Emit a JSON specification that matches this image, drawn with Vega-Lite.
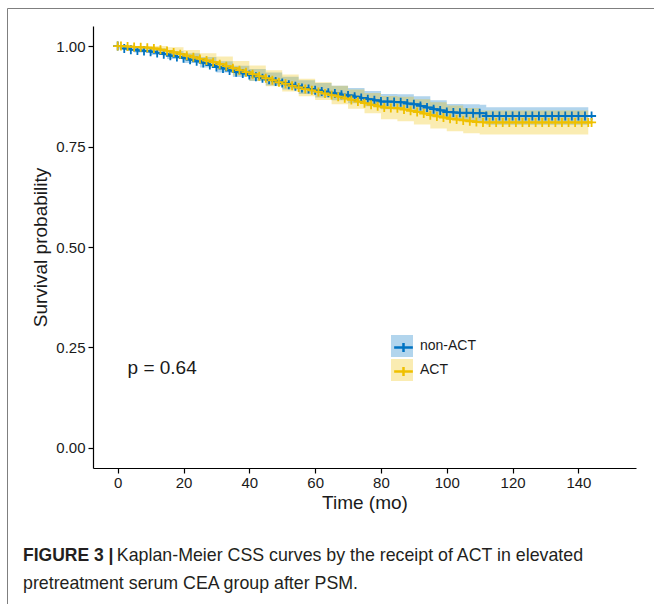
{
  "$schema": "https://vega.github.io/schema/vega-lite/v6.json",
  "width": 543,
  "height": 442,
  "autosize": {"type": "none"},
  "padding": {"left": 93, "top": 26, "right": 18, "bottom": 136},
  "background": "white",
  "config": {
    "view": {"stroke": null},
    "font": "Liberation Sans",
    "axis": {
      "grid": false,
      "domainColor": "#000000",
      "domainWidth": 1.2,
      "tickColor": "#000000",
      "tickWidth": 1.2,
      "tickSize": 5,
      "labelFontSize": 15,
      "labelColor": "#1a1a1a",
      "labelFont": "Liberation Sans",
      "titleFont": "Liberation Sans",
      "titleFontSize": 19,
      "titleFontWeight": "normal",
      "titleColor": "#1a1a1a"
    }
  },
  "title": {
    "text": "FIGURE 3 |",
    "subtitle": ["\u200b\u00a0\u00a0\u00a0\u00a0\u00a0\u00a0\u00a0\u00a0\u00a0\u00a0\u00a0\u00a0\u00a0\u00a0\u00a0\u00a0\u00a0\u00a0\u00a0Kaplan-Meier CSS curves by the receipt of ACT in elevated", "pretreatment serum CEA group after PSM."],
    "orient": "bottom",
    "anchor": "start",
    "frame": "group",
    "baseline": "top",
    "dx": -70,
    "offset": -130,
    "font": "Liberation Sans",
    "fontSize": 17.5,
    "fontWeight": "bold",
    "color": "#231f20",
    "subtitleFont": "Liberation Sans",
    "subtitleFontSize": 17.8,
    "subtitleFontWeight": "normal",
    "subtitleColor": "#231f20",
    "subtitleLineHeight": 28,
    "subtitlePadding": -17.5
  },
  "datasets": {
    "band": [
      {"group": "non-ACT", "t": 0, "lo": 0.996, "hi": 1.0},
      {"group": "non-ACT", "t": 5, "lo": 0.984, "hi": 0.996},
      {"group": "non-ACT", "t": 10, "lo": 0.978, "hi": 0.994},
      {"group": "non-ACT", "t": 15, "lo": 0.968, "hi": 0.988},
      {"group": "non-ACT", "t": 20, "lo": 0.958, "hi": 0.982},
      {"group": "non-ACT", "t": 25, "lo": 0.947, "hi": 0.973},
      {"group": "non-ACT", "t": 30, "lo": 0.934, "hi": 0.962},
      {"group": "non-ACT", "t": 35, "lo": 0.923, "hi": 0.951},
      {"group": "non-ACT", "t": 40, "lo": 0.913, "hi": 0.943},
      {"group": "non-ACT", "t": 45, "lo": 0.902, "hi": 0.934},
      {"group": "non-ACT", "t": 50, "lo": 0.892, "hi": 0.924},
      {"group": "non-ACT", "t": 55, "lo": 0.881, "hi": 0.915},
      {"group": "non-ACT", "t": 60, "lo": 0.872, "hi": 0.908},
      {"group": "non-ACT", "t": 65, "lo": 0.865, "hi": 0.901},
      {"group": "non-ACT", "t": 70, "lo": 0.858, "hi": 0.896},
      {"group": "non-ACT", "t": 75, "lo": 0.850, "hi": 0.888},
      {"group": "non-ACT", "t": 80, "lo": 0.843, "hi": 0.881},
      {"group": "non-ACT", "t": 85, "lo": 0.842, "hi": 0.880},
      {"group": "non-ACT", "t": 90, "lo": 0.835, "hi": 0.875},
      {"group": "non-ACT", "t": 95, "lo": 0.825, "hi": 0.865},
      {"group": "non-ACT", "t": 100, "lo": 0.816, "hi": 0.856},
      {"group": "non-ACT", "t": 105, "lo": 0.813, "hi": 0.855},
      {"group": "non-ACT", "t": 110, "lo": 0.812, "hi": 0.854},
      {"group": "non-ACT", "t": 112, "lo": 0.804, "hi": 0.848},
      {"group": "non-ACT", "t": 143, "lo": 0.804, "hi": 0.848},
      {"group": "ACT", "t": 0, "lo": 0.997, "hi": 1.0},
      {"group": "ACT", "t": 5, "lo": 0.994, "hi": 1.0},
      {"group": "ACT", "t": 10, "lo": 0.989, "hi": 1.0},
      {"group": "ACT", "t": 15, "lo": 0.979, "hi": 0.997},
      {"group": "ACT", "t": 20, "lo": 0.966, "hi": 0.990},
      {"group": "ACT", "t": 25, "lo": 0.954, "hi": 0.982},
      {"group": "ACT", "t": 30, "lo": 0.942, "hi": 0.974},
      {"group": "ACT", "t": 35, "lo": 0.927, "hi": 0.963},
      {"group": "ACT", "t": 40, "lo": 0.914, "hi": 0.952},
      {"group": "ACT", "t": 45, "lo": 0.900, "hi": 0.940},
      {"group": "ACT", "t": 50, "lo": 0.887, "hi": 0.929},
      {"group": "ACT", "t": 55, "lo": 0.875, "hi": 0.919},
      {"group": "ACT", "t": 60, "lo": 0.866, "hi": 0.910},
      {"group": "ACT", "t": 65, "lo": 0.855, "hi": 0.901},
      {"group": "ACT", "t": 70, "lo": 0.844, "hi": 0.892},
      {"group": "ACT", "t": 75, "lo": 0.833, "hi": 0.883},
      {"group": "ACT", "t": 80, "lo": 0.818, "hi": 0.876},
      {"group": "ACT", "t": 85, "lo": 0.813, "hi": 0.874},
      {"group": "ACT", "t": 90, "lo": 0.805, "hi": 0.868},
      {"group": "ACT", "t": 95, "lo": 0.795, "hi": 0.860},
      {"group": "ACT", "t": 100, "lo": 0.788, "hi": 0.852},
      {"group": "ACT", "t": 105, "lo": 0.783, "hi": 0.846},
      {"group": "ACT", "t": 110, "lo": 0.780, "hi": 0.840},
      {"group": "ACT", "t": 143, "lo": 0.780, "hi": 0.840}
    ],
    "km": [
      {"grp": "non-ACT", "t": 0, "s": 1.0},
      {"grp": "non-ACT", "t": 2, "s": 0.994},
      {"grp": "non-ACT", "t": 4, "s": 0.991},
      {"grp": "non-ACT", "t": 6, "s": 0.989},
      {"grp": "non-ACT", "t": 8, "s": 0.988},
      {"grp": "non-ACT", "t": 10, "s": 0.986},
      {"grp": "non-ACT", "t": 12, "s": 0.983},
      {"grp": "non-ACT", "t": 14, "s": 0.980},
      {"grp": "non-ACT", "t": 16, "s": 0.976},
      {"grp": "non-ACT", "t": 18, "s": 0.973},
      {"grp": "non-ACT", "t": 20, "s": 0.970},
      {"grp": "non-ACT", "t": 22, "s": 0.966},
      {"grp": "non-ACT", "t": 24, "s": 0.962},
      {"grp": "non-ACT", "t": 26, "s": 0.958},
      {"grp": "non-ACT", "t": 28, "s": 0.953},
      {"grp": "non-ACT", "t": 30, "s": 0.948},
      {"grp": "non-ACT", "t": 32, "s": 0.944},
      {"grp": "non-ACT", "t": 34, "s": 0.939},
      {"grp": "non-ACT", "t": 36, "s": 0.935},
      {"grp": "non-ACT", "t": 38, "s": 0.932},
      {"grp": "non-ACT", "t": 40, "s": 0.928},
      {"grp": "non-ACT", "t": 42, "s": 0.924},
      {"grp": "non-ACT", "t": 44, "s": 0.920},
      {"grp": "non-ACT", "t": 46, "s": 0.916},
      {"grp": "non-ACT", "t": 48, "s": 0.912},
      {"grp": "non-ACT", "t": 50, "s": 0.908},
      {"grp": "non-ACT", "t": 52, "s": 0.904},
      {"grp": "non-ACT", "t": 54, "s": 0.900},
      {"grp": "non-ACT", "t": 56, "s": 0.896},
      {"grp": "non-ACT", "t": 58, "s": 0.893},
      {"grp": "non-ACT", "t": 60, "s": 0.890},
      {"grp": "non-ACT", "t": 62, "s": 0.887},
      {"grp": "non-ACT", "t": 64, "s": 0.884},
      {"grp": "non-ACT", "t": 66, "s": 0.882},
      {"grp": "non-ACT", "t": 68, "s": 0.879},
      {"grp": "non-ACT", "t": 70, "s": 0.877},
      {"grp": "non-ACT", "t": 72, "s": 0.874},
      {"grp": "non-ACT", "t": 74, "s": 0.871},
      {"grp": "non-ACT", "t": 76, "s": 0.868},
      {"grp": "non-ACT", "t": 78, "s": 0.865},
      {"grp": "non-ACT", "t": 80, "s": 0.862},
      {"grp": "non-ACT", "t": 82, "s": 0.862},
      {"grp": "non-ACT", "t": 84, "s": 0.861},
      {"grp": "non-ACT", "t": 86, "s": 0.860},
      {"grp": "non-ACT", "t": 88, "s": 0.857},
      {"grp": "non-ACT", "t": 90, "s": 0.855},
      {"grp": "non-ACT", "t": 92, "s": 0.851},
      {"grp": "non-ACT", "t": 94, "s": 0.847},
      {"grp": "non-ACT", "t": 96, "s": 0.843},
      {"grp": "non-ACT", "t": 98, "s": 0.840},
      {"grp": "non-ACT", "t": 100, "s": 0.836},
      {"grp": "non-ACT", "t": 102, "s": 0.835},
      {"grp": "non-ACT", "t": 104, "s": 0.834},
      {"grp": "non-ACT", "t": 106, "s": 0.834},
      {"grp": "non-ACT", "t": 108, "s": 0.833},
      {"grp": "non-ACT", "t": 110, "s": 0.833},
      {"grp": "non-ACT", "t": 112, "s": 0.826},
      {"grp": "non-ACT", "t": 114, "s": 0.826},
      {"grp": "non-ACT", "t": 116, "s": 0.826},
      {"grp": "non-ACT", "t": 118, "s": 0.826},
      {"grp": "non-ACT", "t": 120, "s": 0.826},
      {"grp": "non-ACT", "t": 122, "s": 0.826},
      {"grp": "non-ACT", "t": 124, "s": 0.826},
      {"grp": "non-ACT", "t": 126, "s": 0.826},
      {"grp": "non-ACT", "t": 128, "s": 0.826},
      {"grp": "non-ACT", "t": 130, "s": 0.826},
      {"grp": "non-ACT", "t": 132, "s": 0.826},
      {"grp": "non-ACT", "t": 134, "s": 0.826},
      {"grp": "non-ACT", "t": 136, "s": 0.826},
      {"grp": "non-ACT", "t": 138, "s": 0.826},
      {"grp": "non-ACT", "t": 140, "s": 0.826},
      {"grp": "non-ACT", "t": 142, "s": 0.826},
      {"grp": "non-ACT", "t": 144, "s": 0.826},
      {"grp": "ACT", "t": 0, "s": 1.0},
      {"grp": "ACT", "t": 1, "s": 1.0},
      {"grp": "ACT", "t": 3, "s": 0.999},
      {"grp": "ACT", "t": 5, "s": 0.998},
      {"grp": "ACT", "t": 7, "s": 0.997},
      {"grp": "ACT", "t": 9, "s": 0.996},
      {"grp": "ACT", "t": 11, "s": 0.994},
      {"grp": "ACT", "t": 13, "s": 0.991},
      {"grp": "ACT", "t": 15, "s": 0.988},
      {"grp": "ACT", "t": 17, "s": 0.984},
      {"grp": "ACT", "t": 19, "s": 0.980},
      {"grp": "ACT", "t": 21, "s": 0.976},
      {"grp": "ACT", "t": 23, "s": 0.972},
      {"grp": "ACT", "t": 25, "s": 0.968},
      {"grp": "ACT", "t": 27, "s": 0.964},
      {"grp": "ACT", "t": 29, "s": 0.960},
      {"grp": "ACT", "t": 31, "s": 0.955},
      {"grp": "ACT", "t": 33, "s": 0.950},
      {"grp": "ACT", "t": 35, "s": 0.945},
      {"grp": "ACT", "t": 37, "s": 0.940},
      {"grp": "ACT", "t": 39, "s": 0.935},
      {"grp": "ACT", "t": 41, "s": 0.930},
      {"grp": "ACT", "t": 43, "s": 0.925},
      {"grp": "ACT", "t": 45, "s": 0.920},
      {"grp": "ACT", "t": 47, "s": 0.915},
      {"grp": "ACT", "t": 49, "s": 0.910},
      {"grp": "ACT", "t": 51, "s": 0.906},
      {"grp": "ACT", "t": 53, "s": 0.901},
      {"grp": "ACT", "t": 55, "s": 0.897},
      {"grp": "ACT", "t": 57, "s": 0.893},
      {"grp": "ACT", "t": 59, "s": 0.890},
      {"grp": "ACT", "t": 61, "s": 0.886},
      {"grp": "ACT", "t": 63, "s": 0.882},
      {"grp": "ACT", "t": 65, "s": 0.878},
      {"grp": "ACT", "t": 67, "s": 0.874},
      {"grp": "ACT", "t": 69, "s": 0.870},
      {"grp": "ACT", "t": 71, "s": 0.866},
      {"grp": "ACT", "t": 73, "s": 0.862},
      {"grp": "ACT", "t": 75, "s": 0.858},
      {"grp": "ACT", "t": 77, "s": 0.854},
      {"grp": "ACT", "t": 79, "s": 0.850},
      {"grp": "ACT", "t": 81, "s": 0.847},
      {"grp": "ACT", "t": 83, "s": 0.846},
      {"grp": "ACT", "t": 85, "s": 0.845},
      {"grp": "ACT", "t": 87, "s": 0.842},
      {"grp": "ACT", "t": 89, "s": 0.839},
      {"grp": "ACT", "t": 91, "s": 0.836},
      {"grp": "ACT", "t": 93, "s": 0.832},
      {"grp": "ACT", "t": 95, "s": 0.828},
      {"grp": "ACT", "t": 97, "s": 0.825},
      {"grp": "ACT", "t": 99, "s": 0.822},
      {"grp": "ACT", "t": 101, "s": 0.819},
      {"grp": "ACT", "t": 103, "s": 0.817},
      {"grp": "ACT", "t": 105, "s": 0.815},
      {"grp": "ACT", "t": 107, "s": 0.813},
      {"grp": "ACT", "t": 109, "s": 0.811},
      {"grp": "ACT", "t": 111, "s": 0.810},
      {"grp": "ACT", "t": 113, "s": 0.810},
      {"grp": "ACT", "t": 115, "s": 0.810},
      {"grp": "ACT", "t": 117, "s": 0.810},
      {"grp": "ACT", "t": 119, "s": 0.810},
      {"grp": "ACT", "t": 121, "s": 0.810},
      {"grp": "ACT", "t": 123, "s": 0.810},
      {"grp": "ACT", "t": 125, "s": 0.810},
      {"grp": "ACT", "t": 127, "s": 0.810},
      {"grp": "ACT", "t": 129, "s": 0.810},
      {"grp": "ACT", "t": 131, "s": 0.810},
      {"grp": "ACT", "t": 133, "s": 0.810},
      {"grp": "ACT", "t": 135, "s": 0.810},
      {"grp": "ACT", "t": 137, "s": 0.810},
      {"grp": "ACT", "t": 139, "s": 0.810},
      {"grp": "ACT", "t": 141, "s": 0.810},
      {"grp": "ACT", "t": 143, "s": 0.810},
      {"grp": "ACT", "t": 144, "s": 0.810}
    ],
    "pv": [{"label": "p = 0.64", "t": 3, "s": 0.2}]
  },
  "layer": [
    {
      "data": {"name": "band"},
      "mark": {"type": "area", "interpolate": "step-after", "opacity": 0.3},
      "encoding": {
        "x": {"field": "t", "type": "quantitative", "scale": {"domain": [-7.5, 157.5], "nice": false, "zero": false},
          "axis": {"values": [0, 20, 40, 60, 80, 100, 120, 140], "title": "Time (mo)", "labelPadding": 2, "titlePadding": 3}},
        "y": {"field": "lo", "type": "quantitative", "scale": {"domain": [-0.05, 1.05], "nice": false, "zero": false},
          "axis": {"values": [0, 0.25, 0.5, 0.75, 1], "format": ".2f", "title": "Survival probability", "labelPadding": 3, "titlePadding": 5}},
        "y2": {"field": "hi"},
        "fill": {"field": "group", "type": "nominal", "scale": {"range": ["#EFC000", "#0073C2"]},
          "legend": {"orient": "none", "legendX": 298, "legendY": 309, "title": null, "values": ["non-ACT", "ACT"], "symbolType": "square", "symbolSize": 484, "symbolOpacity": 0.3, "symbolStrokeWidth": 0, "labelFontSize": 14, "labelColor": "#1a1a1a", "labelOffset": 7, "rowPadding": 2, "padding": 0}}
      }
    },
    {
      "data": {"name": "km"},
      "mark": {"type": "line", "interpolate": "step-after", "strokeWidth": 2},
      "encoding": {
        "x": {"field": "t", "type": "quantitative"},
        "y": {"field": "s", "type": "quantitative"},
        "stroke": {"field": "grp", "type": "nominal", "scale": {"range": ["#EFC000", "#0073C2"]},
          "legend": {"orient": "none", "legendX": 298, "legendY": 309, "title": null, "values": ["non-ACT", "ACT"], "symbolType": "M-0.85,0H0.85M0,-0.4V0.4", "symbolSize": 484, "symbolStrokeWidth": 2.5, "symbolFillColor": "transparent", "labelFontSize": 14, "labelExpr": "''", "labelOffset": 7, "rowPadding": 2, "padding": 0}}
      }
    },
    {
      "data": {"name": "km"},
      "mark": {"type": "point", "shape": "M0,-1V1M-1,0H1", "size": 81, "strokeWidth": 1.8, "filled": false, "opacity": 1},
      "encoding": {
        "x": {"field": "t", "type": "quantitative"},
        "y": {"field": "s", "type": "quantitative"},
        "stroke": {"field": "grp", "type": "nominal", "scale": {"range": ["#EFC000", "#0073C2"]},
          "legend": {"orient": "none", "legendX": 298, "legendY": 309, "title": null, "values": ["non-ACT", "ACT"], "symbolType": "M-0.85,0H0.85M0,-0.4V0.4", "symbolSize": 484, "symbolStrokeWidth": 2.5, "symbolFillColor": "transparent", "labelFontSize": 14, "labelExpr": "''", "labelOffset": 7, "rowPadding": 2, "padding": 0}}
      }
    },
    {
      "data": {"name": "pv"},
      "mark": {"type": "text", "align": "left", "baseline": "middle", "fontSize": 19, "font": "Liberation Sans", "color": "#1a1a1a"},
      "encoding": {
        "x": {"field": "t", "type": "quantitative"},
        "y": {"field": "s", "type": "quantitative"},
        "text": {"field": "label"},
        "opacity": {"field": "label", "type": "ordinal", "scale": {"range": [1, 1]},
          "legend": {"orient": "none", "legendX": -86, "legendY": -18, "padding": 330, "strokeColor": "#7f7f7f", "title": null, "symbolType": "M0,0", "symbolOpacity": 0, "symbolStrokeWidth": 0, "symbolSize": 64, "labelFontSize": 8, "labelExpr": "''", "labelOffset": 0}}
      }
    }
  ]
}
